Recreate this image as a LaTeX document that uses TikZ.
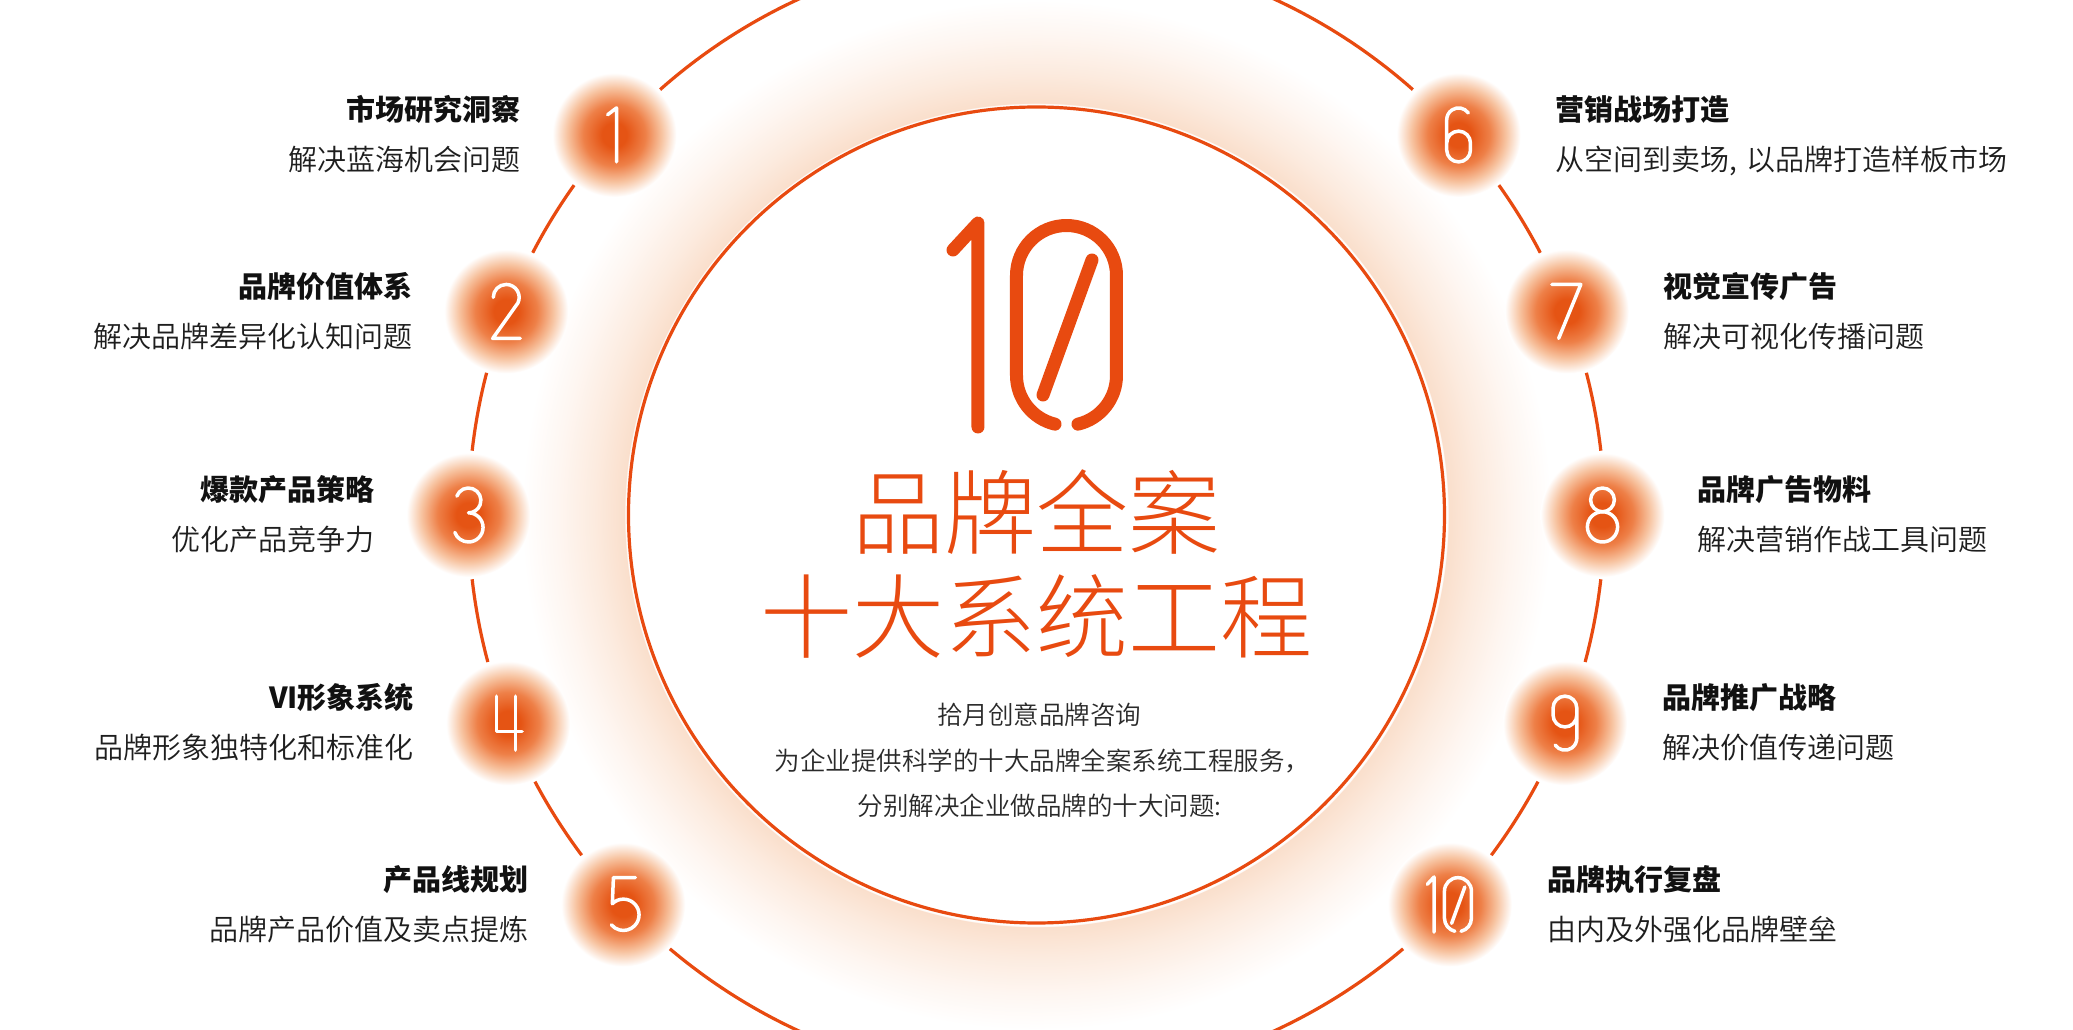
\documentclass[tikz,border=0pt]{standalone}
\usepackage{fontspec}
\newfontfamily\cjk{Noto Sans CJK SC}
\IfFontExistsTF{Noto Sans CJK SC Light}{\newfontfamily\cjklight{Noto Sans CJK SC Light}}{\newfontfamily\cjklight{Noto Sans CJK SC}}
\IfFontExistsTF{Noto Sans CJK SC DemiLight}{\newfontfamily\cjkdemi{Noto Sans CJK SC DemiLight}}{\newfontfamily\cjkdemi{Noto Sans CJK SC}}
\usetikzlibrary{calc}
\definecolor{brand}{HTML}{E84A10}
\definecolor{haloA}{HTML}{FADFCC}
\definecolor{haloB}{HTML}{FCEBDF}
\definecolor{haloC}{HTML}{FEF6F1}
\definecolor{blobA}{HTML}{E55414}
\definecolor{blobB}{HTML}{EE8048}
\definecolor{blobC}{HTML}{F7C3A0}
\definecolor{ttlc}{HTML}{111111}
\definecolor{subc}{HTML}{1E1E1E}
\definecolor{midc}{HTML}{2A2A2A}
\pgfdeclareradialshading{haloshade}{\pgfpointorigin}{color(0bp)=(white); color(19.95bp)=(white); color(20bp)=(haloA); color(21.5bp)=(haloB); color(23.25bp)=(haloC); color(25bp)=(white); color(50bp)=(white)}
\pgfdeclareradialshading{blobshade}{\pgfpointorigin}{color(0bp)=(blobA); color(5bp)=(blobA); color(12.5bp)=(blobB); color(19bp)=(blobC); color(25bp)=(white); color(50bp)=(white)}
\tikzset{
  ring/.style={draw=brand, line width=3.2pt},
  blob/.style={circle, minimum size=124pt, inner sep=0pt, shade, shading=blobshade},
  digit/.style={white, line width=3.5pt, line cap=round, line join=round, scale=0.27},
  ttl/.style={font=\cjk\bfseries\fontsize{29}{31}\selectfont, text=ttlc, inner sep=0pt},
  sub/.style={font=\cjkdemi\fontsize{29}{31}\selectfont, text=subc, inner sep=0pt},
  big/.style={font=\cjklight\fontsize{92}{96}\selectfont, text=brand, inner sep=0pt, anchor=base},
  mid/.style={font=\cjkdemi\fontsize{25.5}{27}\selectfont, text=midc, inner sep=0pt, anchor=base},
  dgone/.pic={\draw (-25,75) -- (8,100) -- (8,-100);},
  dgtwo/.pic={\draw (-48,52) arc[start angle=180, end angle=-25, radius=48] -- (-50,-100) -- (52,-100);},
  dgthree/.pic={\draw ([shift={(0,54)}]160:46) arc[start angle=160, end angle=-90, radius=46] arc[start angle=90, end angle=-160, radius=54];},
  dgfour/.pic={\draw (-42,100) -- (-42,-30) -- (52,-30); \draw (28,100) -- (28,-100);},
  dgfive/.pic={\draw (45,100) -- (-36,100) -- (-40,3) arc[start angle=135, end angle=-140, radius=58];},
  dgsix/.pic={\draw ([shift={(0,56)}]35:44) arc[start angle=35, end angle=180, radius=44] -- (-44,-56) arc[start angle=180, end angle=360, radius=44] -- (44,-30) arc[start angle=0, end angle=180, radius=44];},
  dgseven/.pic={\draw (-55,100) -- (52,100) -- (-30,-100);},
  dgeight/.pic={\draw (0,56) circle[radius=44]; \draw (0,-44) circle[radius=56];},
  dgnine/.pic={\begin{scope}[rotate=180]\draw ([shift={(0,56)}]35:44) arc[start angle=35, end angle=180, radius=44] -- (-44,-56) arc[start angle=180, end angle=360, radius=44] -- (44,-30) arc[start angle=0, end angle=180, radius=44];\end{scope}},
  ten/.pic={
    \draw (-83.5,75) -- (-58.5,102) -- (-58.5,-102);
    \draw (55.5,65) -- (6.5,-70);
    \draw ([shift={(30,-50.5)}]256.7:50) arc[start angle=256.7, end angle=180, radius=50] -- (-20,49.5) arc[start angle=180, end angle=0, radius=50] -- (80,-50.5) arc[start angle=0, end angle=-76.7, radius=50];
  }
}
\begin{document}
\begin{tikzpicture}[x=1pt, y=1pt]
\useasboundingbox (-1036.5,-515) rectangle (1036.5,515);
\fill[white] (-1036.5,-515) rectangle (1036.5,515);
% halo and inner circle
\shade[shading=haloshade] (0,0) circle[radius=515];
\node[circle, draw=brand, line width=3.2pt, fill=white, minimum size=816pt, inner sep=0pt] (inner) at (0,0) {};
% outer ring segments
\draw[ring] (48.5:568) arc[start angle=48.5, end angle=131.5, radius=568];
\draw[ring] (144.5:568) arc[start angle=144.5, end angle=152.5, radius=568];
\draw[ring] (165.5:568) arc[start angle=165.5, end angle=173.5, radius=568];
\draw[ring] (186.5:568) arc[start angle=186.5, end angle=195, radius=568];
\draw[ring] (208:568) arc[start angle=208, end angle=216.8, radius=568];
\draw[ring] (229.8:568) arc[start angle=229.8, end angle=310.2, radius=568];
\draw[ring] (323.2:568) arc[start angle=323.2, end angle=332, radius=568];
\draw[ring] (345:568) arc[start angle=345, end angle=353.5, radius=568];
\draw[ring] (6.5:568) arc[start angle=6.5, end angle=14.5, radius=568];
\draw[ring] (27.5:568) arc[start angle=27.5, end angle=35.5, radius=568];
% blobs
\node[blob] (c1) at (138:568) {};
\node[blob] (c2) at (159:568) {};
\node[blob] (c3) at (180:568) {};
\node[blob] (c4) at (201.5:568) {};
\node[blob] (c5) at (223.3:568) {};
\node[blob] (c6) at (42:568) {};
\node[blob] (c7) at (21:568) {};
\node[blob] (c8) at (0:566) {};
\node[blob] (c9) at (-21.5:568) {};
\node[blob] (c10) at (-43.3:568) {};
% digits
\pic[digit] at (c1) {dgone};
\pic[digit] at (c2) {dgtwo};
\pic[digit] at (c3) {dgthree};
\pic[digit] at (c4) {dgfour};
\pic[digit] at (c5) {dgfive};
\pic[digit] at (c6) {dgsix};
\pic[digit] at (c7) {dgseven};
\pic[digit] at (c8) {dgeight};
\pic[digit] at (c9) {dgnine};
\pic[digit] at (c10) {ten};
% big 10
\pic[brand, line width=13pt, line cap=round, line join=round] at (0,190) {ten};
% central texts
\node[big] (h1) at (0,-33) {品牌全案};
\node[big] (h2) at (0,-137) {十大系统工程};
\node[mid] (m1) at (3,-209.7) {拾月创意品牌咨询};
\node[mid] (m2) at (6,-255.7) {为企业提供科学的十大品牌全案系统工程服务，};
\node[mid] (m3) at (3,-300.7) {分别解决企业做品牌的十大问题:};
% left labels
\node[ttl, anchor=base east] (t1) at ($(c1)+(-94,14.2)$) {市场研究洞察};
\node[sub, anchor=base east] (s1) at ($(c1)+(-94,-35.8)$) {解决蓝海机会问题};
\node[ttl, anchor=base east] (t2) at ($(c2)+(-94,14.2)$) {品牌价值体系};
\node[sub, anchor=base east] (s2) at ($(c2)+(-94,-35.8)$) {解决品牌差异化认知问题};
\node[ttl, anchor=base east] (t3) at ($(c3)+(-94,14.2)$) {爆款产品策略};
\node[sub, anchor=base east] (s3) at ($(c3)+(-94,-35.8)$) {优化产品竞争力};
\node[ttl, anchor=base east] (t4) at ($(c4)+(-94,14.2)$) {VI形象系统};
\node[sub, anchor=base east] (s4) at ($(c4)+(-94,-35.8)$) {品牌形象独特化和标准化};
\node[ttl, anchor=base east] (t5) at ($(c5)+(-94,14.2)$) {产品线规划};
\node[sub, anchor=base east] (s5) at ($(c5)+(-94,-35.8)$) {品牌产品价值及卖点提炼};
% right labels
\node[ttl, anchor=base west] (t6) at ($(c6)+(97,14.2)$) {营销战场打造};
\node[sub, anchor=base west] (s6) at ($(c6)+(97,-35.8)$) {从空间到卖场,\hspace{0.3em}以品牌打造样板市场};
\node[ttl, anchor=base west] (t7) at ($(c7)+(97,14.2)$) {视觉宣传广告};
\node[sub, anchor=base west] (s7) at ($(c7)+(97,-35.8)$) {解决可视化传播问题};
\node[ttl, anchor=base west] (t8) at ($(c8)+(95,14.2)$) {品牌广告物料};
\node[sub, anchor=base west] (s8) at ($(c8)+(95,-35.8)$) {解决营销作战工具问题};
\node[ttl, anchor=base west] (t9) at ($(c9)+(97,14.2)$) {品牌推广战略};
\node[sub, anchor=base west] (s9) at ($(c9)+(97,-35.8)$) {解决价值传递问题};
\node[ttl, anchor=base west] (t10) at ($(c10)+(97,14.2)$) {品牌执行复盘};
\node[sub, anchor=base west] (s10) at ($(c10)+(97,-35.8)$) {由内及外强化品牌壁垒};
\end{tikzpicture}
\end{document}
